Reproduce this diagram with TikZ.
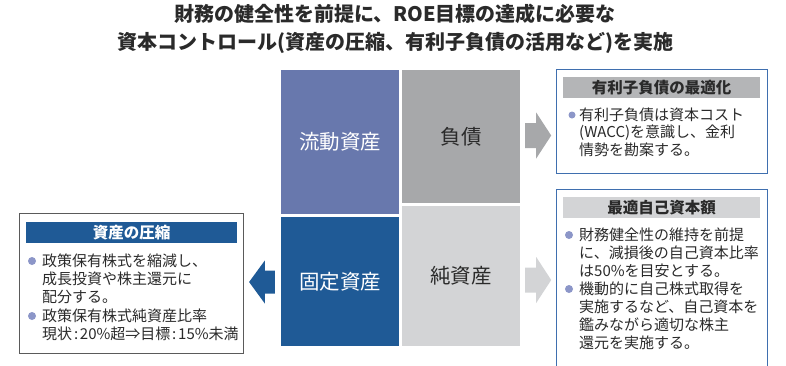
\documentclass[tikz,border=0pt]{standalone}
\usepackage{fontspec}
\setmainfont{Noto Sans CJK JP}
\usetikzlibrary{calc}
\definecolor{ltblue}{HTML}{6878AD}
\definecolor{dkblue}{HTML}{1F5A96}
\definecolor{midgray}{HTML}{A7A8AA}
\definecolor{ltgray}{HTML}{D3D4D6}
\definecolor{hdrgray}{HTML}{B4B5B7}
\definecolor{bul}{HTML}{8C96C8}
\definecolor{frameblue}{HTML}{3F6FAF}
\definecolor{framegray}{HTML}{5A5A5A}
\definecolor{txt}{HTML}{2A2A2A}
\newcommand\colsep{\hspace{1.8pt}:\hspace{1.8pt}}
\begin{document}
\begin{tikzpicture}[x=1pt,y=-1pt,
  titletext/.style={font=\fontsize{20}{24}\selectfont\bfseries, text=txt, inner sep=0},
  cell/.style={inner sep=0, font=\fontsize{20.5}{24}\selectfont},
  frame/.style={anchor=north west, inner sep=0, minimum width=211, minimum height=#1, line width=1.1},
  hdr/.style={anchor=north west, inner sep=0, minimum height=21, font=\fontsize{15.5}{18}\selectfont\bfseries},
  body/.style={anchor=north west, inner sep=0, align=left, text=txt, font=\fontsize{15}{18}\selectfont},
  dot/.style={fill=bul, draw=none, circle, inner sep=0, minimum size=8}
]
\useasboundingbox (0,0) rectangle (786,365);
\clip (0,0) rectangle (786,365);

% title
\node[titletext] (t1) at (395,14) {財務の健全性を前提に、ROE目標の達成に必要な};
\node[titletext] (t2) at (395,43) {資本コントロール(資産の圧縮、有利子負債の活用など)を実施};

% balance sheet grid
\node[cell, fill=ltblue, text=white, minimum width=118, minimum height=144] (ca) at (340,142) {流動資産};
\node[cell, fill=midgray, text=txt, minimum width=118, minimum height=133] (cb) at (461,136.5) {負債};
\node[cell, fill=dkblue, text=white, minimum width=118, minimum height=129] (cc) at (340,281.5) {固定資産};
\node[cell, fill=ltgray, text=txt, minimum width=118, minimum height=140] (cd) at (461,276) {純資産};

% block arrows
\fill[midgray] ($(cb.east)+(5,-13.5)$) -- ++(11,0) -- ++(0,-10.5) -- ++(15,23) -- ++(-15,23) -- ++(0,-10.5) -- ++(-11,0) -- cycle;
\fill[ltgray] ($(cd.east)+(5,-8.5)$) -- ++(11,0) -- ++(0,-10.5) -- ++(15,23) -- ++(-15,23) -- ++(0,-10.5) -- ++(-11,0) -- cycle;
\fill[dkblue] ($(cc.west)+(-6,-11)$) -- ++(-10,0) -- ++(0,-10) -- ++(-15.7,21.5) -- ++(15.7,21.5) -- ++(0,-10) -- ++(10,0) -- cycle;

% left box
\node[frame=140, draw=framegray, minimum width=224] (lbox) at (19,213) {};
\node[hdr, fill=dkblue, text=white, minimum width=211] (lhdr) at (26,221.5) {資産の圧縮};
\node[dot] (ld1) at (32,261) {};
\node[body] (lt1) at (42,253.5) {政策保有株式を縮減し、\\成長投資や株主還元に\\配分する。};
\node[dot] (ld2) at (32,316) {};
\node[body] (lt2) at (42,308.5) {政策保有株式純資産比率\\現状\colsep 20\%超⇒目標\colsep 15\%未満};

% right top box
\node[frame=104, draw=frameblue] (rbox1) at (556,69) {};
\node[hdr, fill=hdrgray, text=txt, minimum width=197] (rhdr1) at (563,77) {有利子負債の最適化};
\node[dot, minimum size=7] (rd1) at (572,115) {};
\node[body, font=\fontsize{15}{17.5}\selectfont] (rt1) at (579,107.5) {有利子負債は資本コスト\\(WACC)を意識し、金利\\情勢を勘案する。};

% right bottom box
\node[frame=186, draw=frameblue] (rbox2) at (556,189) {};
\node[hdr, fill=ltgray, text=txt, minimum width=197] (rhdr2) at (563,197) {最適自己資本額};
\node[dot] (rd2) at (569,235) {};
\node[body] (rt2) at (579,227.5) {財務健全性の維持を前提\\に、減損後の自己資本比率\\は50\%を目安とする。};
\node[dot] (rd3) at (569,289) {};
\node[body] (rt3) at (579,281.5) {機動的に自己株式取得を\\実施するなど、自己資本を\\鑑みながら適切な株主\\還元を実施する。};
\end{tikzpicture}
\end{document}
